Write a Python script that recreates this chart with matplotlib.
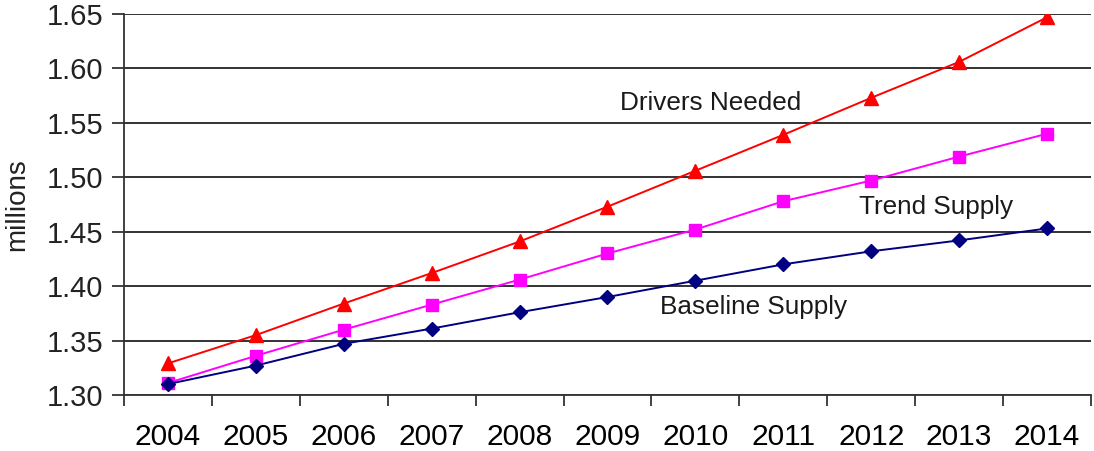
import matplotlib.pyplot as plt
import numpy as np

plt.rcParams['font.family'] = ['Liberation Sans', 'DejaVu Sans']

years = ['2004', '2005', '2006', '2007', '2008', '2009',
         '2010', '2011', '2012', '2013', '2014']
drivers_needed = [1.329, 1.355, 1.384, 1.412, 1.441, 1.473,
                  1.506, 1.539, 1.573, 1.606, 1.647]
trend_supply = [1.311, 1.336, 1.360, 1.383, 1.406, 1.430,
                1.452, 1.478, 1.497, 1.519, 1.540]
baseline_supply = [1.310, 1.327, 1.347, 1.361, 1.376, 1.390,
                   1.405, 1.420, 1.432, 1.442, 1.453]

fig = plt.figure(figsize=(10.94, 4.51), dpi=100)
ax = fig.add_axes([0.1133, 0.1242, 0.884, 0.8448])

x = np.arange(len(years))
ax.plot(x, drivers_needed, color='#ff0000', lw=1.4, marker='^', ms=10, zorder=3)
ax.plot(x, trend_supply, color='#ff00ff', lw=1.4, marker='s', ms=8.5, zorder=3)
ax.plot(x, baseline_supply, color='#000080', lw=1.4, marker='D', ms=7.5, zorder=3)

ax.set_xlim(-0.5, len(years) - 0.5)
ax.set_ylim(1.30, 1.65)

# category labels between the tick marks
ax.set_xticks(np.arange(-0.5, len(years)))
ax.set_xticklabels([])
ax.set_xticks(x, minor=True)
ax.set_xticklabels(years, minor=True)
ax.tick_params(axis='x', which='minor', length=0, pad=20, labelsize=21.5)
ax.tick_params(axis='x', which='major', length=8, width=1.3, color='#333333')

yticks = np.arange(1.30, 1.651, 0.05)
ax.set_yticks(yticks)
ax.set_yticklabels(['%.2f' % v for v in yticks])
ax.tick_params(axis='y', length=9, width=1.3, color='#333333', pad=6,
               labelsize=21, labelcolor='#222222')
ax.tick_params(axis='x', labelcolor='#222222')

ax.yaxis.grid(True, color='#222222', lw=1.3)
ax.set_axisbelow(True)
for side in ['top', 'right']:
    ax.spines[side].set_visible(False)
for side in ['left', 'bottom']:
    ax.spines[side].set_color('#333333')
    ax.spines[side].set_linewidth(1.3)

ax.set_ylabel('millions', fontsize=20, color='#222222', labelpad=12)

ax.text(5.14, 1.568, 'Drivers Needed', fontsize=18.8, color='#1a1a1a', va='center')
ax.text(7.86, 1.4725, 'Trend Supply', fontsize=18.8, color='#1a1a1a', va='center')
ax.text(5.60, 1.3805, 'Baseline Supply', fontsize=18.8, color='#1a1a1a', va='center')

fig.savefig('out.png', dpi=100)
